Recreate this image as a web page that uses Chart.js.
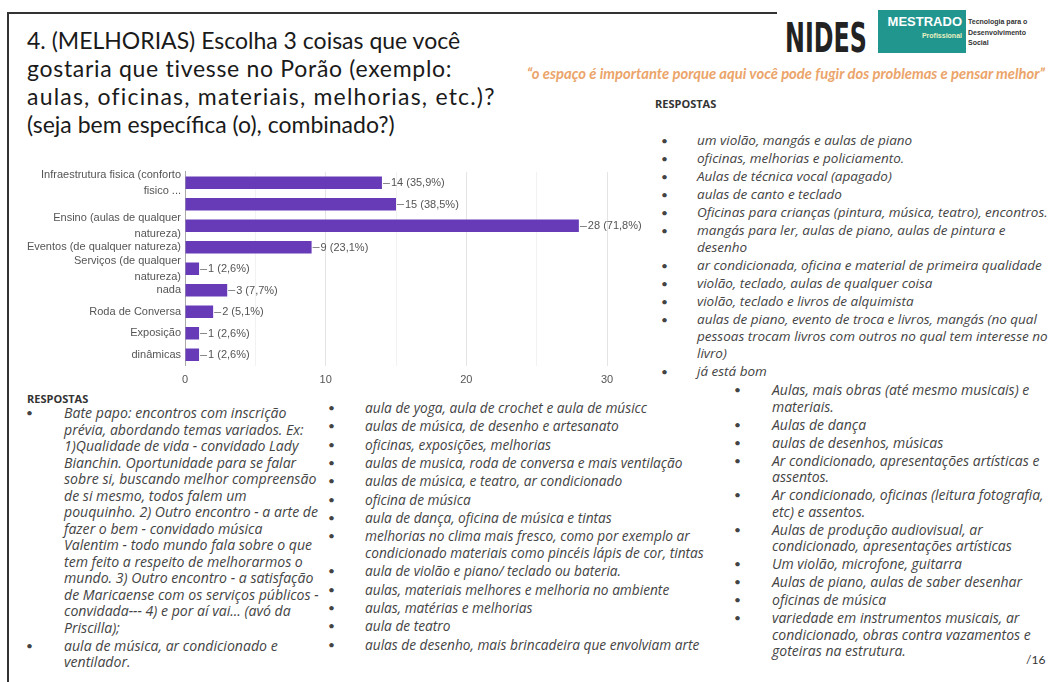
<!DOCTYPE html>
<html>
<head>
<meta charset="utf-8">
<script src="https://cdn.jsdelivr.net/npm/chart.js@4.4.0/dist/chart.umd.min.js"></script>
<style>
  html, body { margin: 0; padding: 0; background: #fff; }
  body { width: 1053px; height: 682px; position: relative; overflow: hidden; font-family: Lato, "Open Sans", sans-serif; }
  .abs { position: absolute; white-space: nowrap; }
  #frameLeft { left: 7px; top: 12px; width: 2px; height: 670px; background: #333; }
  #frameTop { left: 7px; top: 12px; width: 770px; height: 2px; background: #333; }
  #title { left: 27px; top: 26px; font-size: 23px; line-height: 28px; color: #1a1a1a; }
  #title span { display: block; }
  #nides { left: 785px; top: 15px; font-family: "Liberation Sans Narrow", "DejaVu Sans Condensed", sans-serif; font-weight: bold; font-size: 40px; color: #222; transform: scaleX(0.66); transform-origin: left top; }
  #teal { left: 878px; top: 10px; width: 88px; height: 43px; background: #21968f; }
  #teal .m { position: absolute; right: 4px; top: 4px; color: #fff; font-family: "Liberation Sans", sans-serif; font-weight: bold; font-size: 13px; }
  #teal .p { position: absolute; right: 4px; top: 22px; color: #e8f0c0; font-family: "Liberation Sans", sans-serif; font-weight: bold; font-size: 7px; }
  #tecno { left: 968px; top: 17px; font-family: "Liberation Sans", sans-serif; font-weight: bold; font-size: 7px; line-height: 10.5px; color: #333; }
  #quote { left: 527px; top: 64px; font-style: italic; font-weight: bold; font-size: 14.8px; color: #eba46a; }
  .head { font-weight: bold; font-size: 11px; color: #333; font-family: "Open Sans", Lato, sans-serif; }
  .li { font-family: "Open Sans", Lato, sans-serif; font-style: italic; color: #444; }
  .bul { font-size: 12px; color: #444; }
  #page { left: 1026px; top: 652px; font-size: 12px; color: #333; }
  #chartBox { position: absolute; left: 10px; top: 160px; width: 650px; height: 232px; }
</style>
</head>
<body>
<div class="abs" id="frameLeft"></div>
<div class="abs" id="frameTop"></div>
<div class="abs" id="title">
  <span>4. (MELHORIAS) Escolha 3 coisas que você</span>
  <span style="letter-spacing:0.7px">gostaria que tivesse no Porão (exemplo:</span>
  <span style="letter-spacing:1.2px">aulas, oficinas, materiais, melhorias, etc.)?</span>
  <span>(seja bem específica (o), combinado?)</span>
</div>
<div class="abs" id="nides">NIDES</div>
<div class="abs" id="teal"><span class="m">MESTRADO</span><span class="p">Profissional</span></div>
<div class="abs" id="tecno">Tecnologia para o<br>Desenvolvimento<br>Social</div>
<div class="abs" id="quote">“o espaço é importante porque aqui você pode fugir dos problemas e pensar melhor”</div>
<div class="abs head" style="left:655px; top:96px;">RESPOSTAS</div>
<div class="abs head" style="left:27px; top:391px;">RESPOSTAS</div>
<div class="abs" id="page">/16</div>
<div id="chartBox"><canvas id="chart"></canvas></div>
<div id="lists"></div>

<script>
// dados do gráfico
const categories = [
    ['Infraestrutura fisica (conforto', 'fisico ...'],
    '',
    ['Ensino (aulas de qualquer', 'natureza)'],
    'Eventos (de qualquer natureza)',
    ['Serviços (de qualquer', 'natureza)'],
    'nada',
    'Roda de Conversa',
    'Exposição',
    'dinâmicas'
];
const counts = [14, 15, 28, 9, 1, 3, 2, 1, 1];
const percents = ['35,9%', '38,5%', '71,8%', '23,1%', '2,6%', '7,7%', '5,1%', '2,6%', '2,6%'];
const xTickLabels = [0, 10, 20, 30];

// respostas (cada item = linhas já quebradas como no slide)
const answersTopRight = [
    ['um violão, mangás e aulas de piano'],
    ['oficinas, melhorias e policiamento.'],
    ['Aulas de técnica vocal (apagado)'],
    ['aulas de canto e teclado'],
    ['Oficinas para crianças (pintura, música, teatro), encontros.'],
    ['mangás para ler, aulas de piano, aulas de pintura e', 'desenho'],
    ['ar condicionada, oficina e material de primeira qualidade'],
    ['violão, teclado, aulas de qualquer coisa'],
    ['violão, teclado e livros de alquimista'],
    ['aulas de piano, evento de troca e livros, mangás (no qual', 'pessoas trocam livros com outros no qual tem interesse no', 'livro)'],
    ['já está bom']
];
const answersLeft = [
    ['Bate papo: encontros com inscrição', 'prévia, abordando temas variados. Ex:', '1)Qualidade de vida - convidado Lady', 'Bianchin. Oportunidade para se falar', 'sobre si, buscando melhor compreensão', 'de si mesmo, todos falem um', 'pouquinho. 2) Outro encontro - a arte de', 'fazer o bem - convidado música', 'Valentim - todo mundo fala sobre o que', 'tem feito a respeito de melhorarmos o', 'mundo. 3) Outro encontro - a satisfação', 'de Maricaense com os serviços públicos -', 'convidada--- 4) e por aí vai... (avó da', 'Priscilla);'],
    ['aula de música, ar condicionado e', 'ventilador.']
];
const answersMiddle = [
    ['aula de yoga, aula de crochet e aula de músicc'],
    ['aulas de música, de desenho e artesanato'],
    ['oficinas, exposições, melhorias'],
    ['aulas de musica, roda de conversa e mais ventilação'],
    ['aulas de música, e teatro, ar condicionado'],
    ['oficina de música'],
    ['aula de dança, oficina de música e tintas'],
    ['melhorias no clima mais fresco, como por exemplo ar', 'condicionado materiais como pincéis lápis de cor, tintas'],
    ['aula de violão e piano/ teclado ou bateria.'],
    ['aulas, materiais melhores e melhoria no ambiente'],
    ['aulas, matérias e melhorias'],
    ['aula de teatro'],
    ['aulas de desenho, mais brincadeira que envolviam arte']
];
const answersBottomRight = [
    ['Aulas, mais obras (até mesmo musicais) e', 'materiais.'],
    ['Aulas de dança'],
    ['aulas de desenhos, músicas'],
    ['Ar condicionado, apresentações artísticas e', 'assentos.'],
    ['Ar condicionado, oficinas (leitura fotografia,', 'etc) e assentos.'],
    ['Aulas de produção audiovisual, ar', 'condicionado, apresentações artísticas'],
    ['Um violão, microfone, guitarra'],
    ['Aulas de piano, aulas de saber desenhar'],
    ['oficinas de música'],
    ['variedade em instrumentos musicais, ar', 'condicionado, obras contra vazamentos e', 'goteiras na estrutura.']
];

function renderList(items, opt) {
    const $lists = document.querySelector('#lists');
    let y = opt.y;
    items.forEach(function (lines) {
        $lists.innerHTML += `<div class="abs bul" style="left:${opt.bx}px; top:${y - 8}px;">•</div>`;
        lines.forEach(function (line) {
            $lists.innerHTML += `<div class="abs li" style="left:${opt.tx}px; top:${y - 10}px; font-size:${opt.size}px;">${line}</div>`;
            y += opt.lineH;
        });
        y += opt.gap;
    });
}

renderList(answersTopRight, { bx: 661, tx: 697, y: 141, lineH: 17, gap: 1, size: 13.5 });
renderList(answersLeft, { bx: 26, tx: 64, y: 413, lineH: 16.5, gap: 1.5, size: 14.1 });
renderList(answersMiddle, { bx: 328, tx: 365, y: 408, lineH: 17, gap: 1.3, size: 13.7 });
renderList(answersBottomRight, { bx: 734, tx: 772, y: 390, lineH: 16.5, gap: 1.5, size: 14 });

// rótulos de valor ao lado das barras
const valueLabels = {
    id: 'valueLabels',
    afterDatasetsDraw(chart) {
        const ctx = chart.ctx;
        const meta = chart.getDatasetMeta(0);
        ctx.save();
        ctx.font = '11px "Liberation Sans", Arial, sans-serif';
        ctx.fillStyle = '#555';
        ctx.strokeStyle = '#888';
        ctx.lineWidth = 1;
        ctx.textBaseline = 'middle';
        meta.data.forEach(function (bar, i) {
            const x = bar.x, y = bar.y;
            ctx.beginPath();
            ctx.moveTo(x + 1, Math.round(y) + 0.5);
            ctx.lineTo(x + 8, Math.round(y) + 0.5);
            ctx.stroke();
            ctx.fillText(counts[i] + ' (' + percents[i] + ')', x + 9, y + 0.5);
        });
        ctx.restore();
    }
};

const config = {
    type: 'bar',
    data: {
        labels: categories,
        datasets: [{
            data: counts,
            backgroundColor: '#673ab7',
            borderWidth: 0,
            barPercentage: 0.58,
            categoryPercentage: 1
        }]
    },
    options: {
        indexAxis: 'y',
        responsive: true,
        maintainAspectRatio: false,
        animation: false,
        layout: { padding: { top: 8, right: 53, left: 0, bottom: 0 } },
        plugins: { legend: { display: false }, tooltip: { enabled: false } },
        scales: {
            x: {
                min: 0,
                max: 30,
                ticks: {
                    stepSize: 5,
                    padding: 8,
                    color: '#555',
                    font: { family: '"Liberation Sans", Arial, sans-serif', size: 11 },
                    callback: function (value) {
                        return xTickLabels.includes(value) ? value : '';
                    }
                },
                grid: {
                    drawTicks: false,
                    color: function (c) {
                        if (c.tick && c.tick.value === 0) return 'rgba(0,0,0,0)';
                        return c.tick && c.tick.value % 10 === 0 ? '#e4e4e4' : '#f2f2f2';
                    }
                },
                border: { display: false },
                afterFit: function (scale) { scale.height = 26.5; }
            },
            y: {
                ticks: {
                    padding: 4,
                    color: '#555',
                    autoSkip: false,
                    font: { family: '"Liberation Sans", Arial, sans-serif', size: 11, lineHeight: 1.45 }
                },
                grid: { display: false, drawTicks: false },
                border: { display: true, color: '#aaa' },
                afterFit: function (scale) { scale.width = 175; }
            }
        }
    },
    plugins: [valueLabels]
};

new Chart(document.getElementById('chart'), config);
</script>
</body>
</html>
